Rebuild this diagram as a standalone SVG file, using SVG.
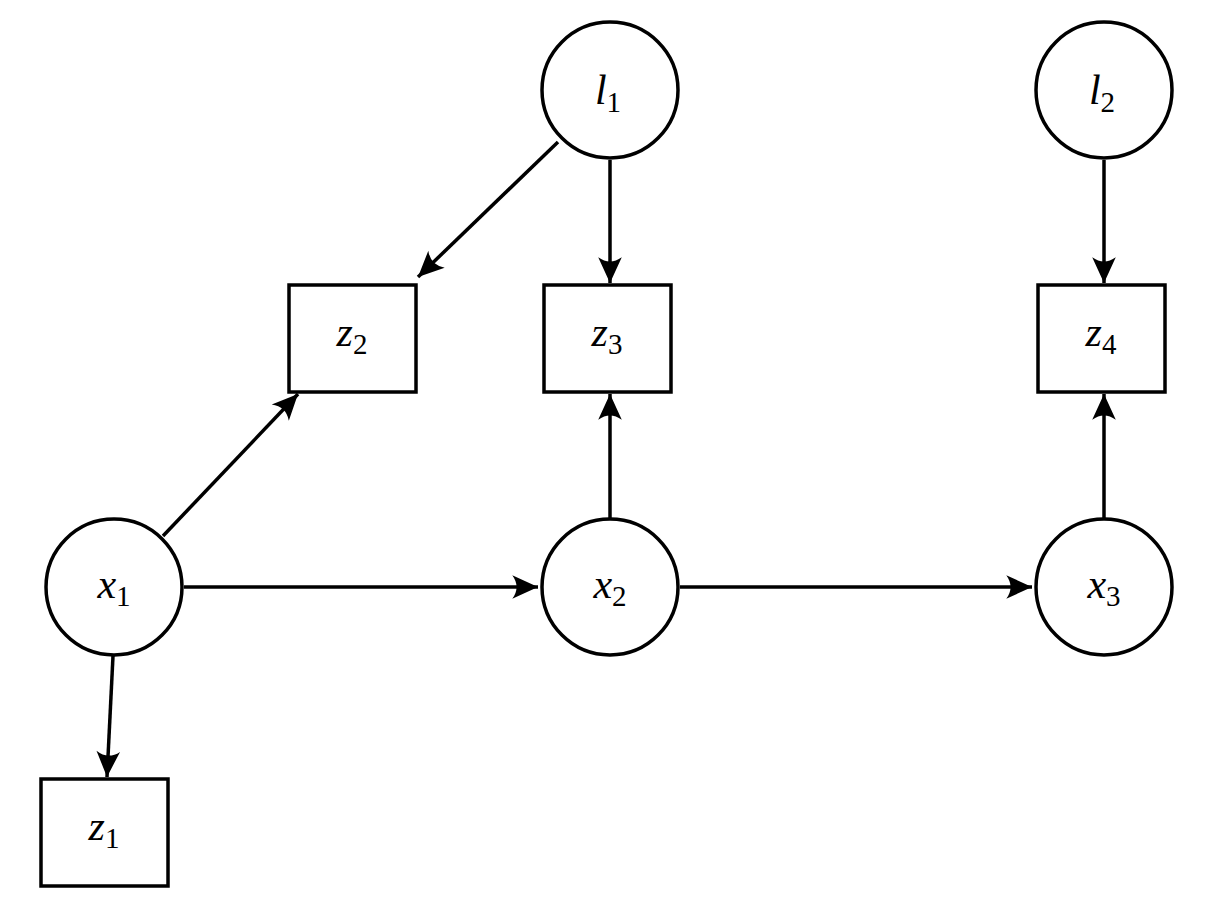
<svg xmlns="http://www.w3.org/2000/svg" width="1215" height="916" viewBox="0 0 1215 916">
<style>
.n{fill:#fff;stroke:#000;stroke-width:3.5}
.e{stroke:#000;stroke-width:3.5;fill:none;marker-end:url(#a)}
text{font-family:"Liberation Serif","DejaVu Serif",serif;font-size:42px;text-anchor:middle}
.v{font-style:italic}
.s{font-size:29px;font-style:normal}
</style>
<defs>
<marker id="a" markerUnits="userSpaceOnUse" markerWidth="30" markerHeight="30" viewBox="-26 -12 28 24" refX="0" refY="0" orient="auto">
<path d="M0,0 L-24,-11 Q-16,0 -24,11 Z" fill="#000"/>
</marker>
</defs>
<rect width="1215" height="916" fill="#fff"/>
<g id="connectors">
<line class="e" x1="558" y1="142" x2="418" y2="277"/>
<line class="e" x1="610" y1="160" x2="610" y2="283"/>
<line class="e" x1="1104" y1="160" x2="1104" y2="283"/>
<line class="e" x1="163" y1="536" x2="298" y2="394"/>
<line class="e" x1="610" y1="518" x2="610" y2="394"/>
<line class="e" x1="1104" y1="518" x2="1104" y2="394"/>
<line class="e" x1="184" y1="587" x2="538" y2="587"/>
<line class="e" x1="680" y1="587" x2="1032" y2="587"/>
<line class="e" x1="113" y1="656" x2="107" y2="777"/>
</g>
<g id="l1"><circle class="n" cx="610" cy="90" r="68"/><text x="608" y="104"><tspan class="v">l</tspan><tspan class="s" dy="8">1</tspan></text></g>
<g id="l2"><circle class="n" cx="1104" cy="90" r="68"/><text x="1102" y="104"><tspan class="v">l</tspan><tspan class="s" dy="8">2</tspan></text></g>
<g id="x1"><circle class="n" cx="114" cy="587" r="68"/><text x="114" y="598"><tspan class="v">x</tspan><tspan class="s" dy="8">1</tspan></text></g>
<g id="x2"><circle class="n" cx="610" cy="587" r="68"/><text x="610" y="598"><tspan class="v">x</tspan><tspan class="s" dy="8">2</tspan></text></g>
<g id="x3"><circle class="n" cx="1104" cy="587" r="68"/><text x="1104" y="598"><tspan class="v">x</tspan><tspan class="s" dy="8">3</tspan></text></g>
<g id="z2"><rect class="n" x="289" y="285" width="127" height="107"/><text x="352" y="346"><tspan class="v">z</tspan><tspan class="s" dy="8">2</tspan></text></g>
<g id="z3"><rect class="n" x="544" y="285" width="127" height="107"/><text x="607" y="346"><tspan class="v">z</tspan><tspan class="s" dy="8">3</tspan></text></g>
<g id="z4"><rect class="n" x="1038" y="285" width="127" height="107"/><text x="1101" y="346"><tspan class="v">z</tspan><tspan class="s" dy="8">4</tspan></text></g>
<g id="z1"><rect class="n" x="41" y="779" width="127" height="107"/><text x="104" y="840"><tspan class="v">z</tspan><tspan class="s" dy="8">1</tspan></text></g>
</svg>
